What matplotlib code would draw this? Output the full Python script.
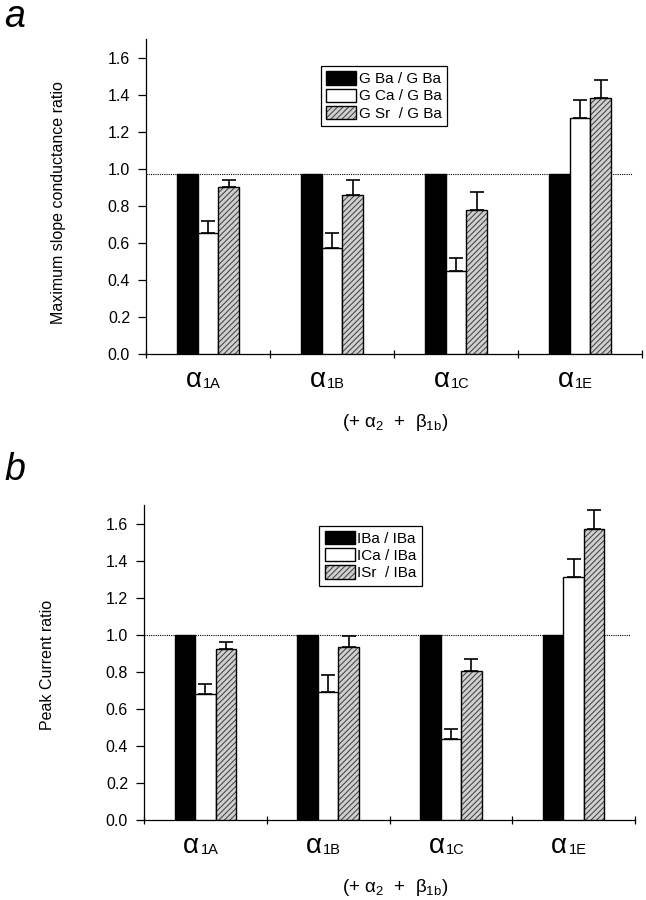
import matplotlib
matplotlib.use('Agg')
import matplotlib.pyplot as plt
from matplotlib.transforms import blended_transform_factory
from matplotlib.legend_handler import HandlerTuple
import numpy as np

plt.rcParams['font.family'] = ['Liberation Sans', 'DejaVu Sans']
plt.rcParams['mathtext.default'] = 'regular'
plt.rcParams['hatch.linewidth'] = 0.7

# ---------------- data ----------------
categories = ['1A', '1B', '1C', '1E']
yticks = [0.0, 0.2, 0.4, 0.6, 0.8, 1.0, 1.2, 1.4, 1.6]

# panel a: maximum slope conductance ratio
a_ba = [0.975, 0.975, 0.975, 0.975]
a_ca = [0.653, 0.574, 0.447, 1.274]
a_ca_err = [0.068, 0.081, 0.071, 0.098]
a_sr = [0.900, 0.859, 0.779, 1.382]
a_sr_err = [0.040, 0.081, 0.094, 0.100]
a_labels = ['G Ba / G Ba', 'G Ca / G Ba', 'G Sr  / G Ba']

# panel b: peak current ratio
b_ba = [1.0, 1.0, 1.0, 1.0]
b_ca = [0.679, 0.693, 0.438, 1.314]
b_ca_err = [0.056, 0.089, 0.052, 0.097]
b_sr = [0.922, 0.931, 0.802, 1.571]
b_sr_err = [0.040, 0.061, 0.068, 0.101]
b_labels = ['IBa / IBa', 'ICa / IBa', 'ISr  / IBa']

W, H = 646, 900
fig = plt.figure(figsize=(W / 100, H / 100), dpi=100)


def draw_panel(rect, ba, ca, ca_err, sr, sr_err, ylabel, labels,
               leg_anchor, ylab_pos, xlab_pos, dot_xmax):
    ax = fig.add_axes(rect)
    n = len(categories)
    x = np.arange(n) + 0.5
    w = 1 / 6
    hb = ax.bar(x - w, ba, w, color='black', edgecolor='black',
                linewidth=1.0, zorder=3)
    hc = ax.bar(x, ca, w, color='white', edgecolor='black',
                linewidth=1.0, zorder=3)
    hs_fill = ax.bar(x + w, sr, w, color='#cfcfcf', edgecolor='#3a3a3a',
                     hatch='//////', linewidth=0, zorder=3)
    hs_edge = ax.bar(x + w, sr, w, fill=False, edgecolor='black',
                     linewidth=1.0, zorder=4)
    ax.errorbar(x, ca, yerr=[np.zeros(n), ca_err], fmt='none',
                ecolor='black', elinewidth=1.2, capsize=5, capthick=1.2,
                zorder=2)
    ax.errorbar(x + w, sr, yerr=[np.zeros(n), sr_err], fmt='none',
                ecolor='black', elinewidth=1.2, capsize=5, capthick=1.2,
                zorder=2)
    ax.axhline(ba[0], xmin=0, xmax=dot_xmax, color='black',
               linestyle=(0, (1, 1)), linewidth=0.8, zorder=1)

    ax.set_xlim(0, n)
    ax.set_ylim(0, 1.7)
    ax.set_yticks(yticks)
    ax.set_yticklabels(['%.1f' % v for v in yticks], fontsize=11.5)
    ax.set_xticks(np.arange(n + 1))
    ax.set_xticklabels([])
    ax.tick_params(axis='y', direction='out', length=5.5, width=0.9, pad=6)
    ax.tick_params(axis='x', direction='inout', length=6, width=0.9)
    for s in ['top', 'right']:
        ax.spines[s].set_visible(False)
    for s in ['left', 'bottom']:
        ax.spines[s].set_linewidth(0.9)

    trans = blended_transform_factory(ax.transData, ax.transAxes)
    for xi, c in zip(x, categories):
        ax.annotate('\u03b1', xy=(xi, 0), xycoords=trans,
                    xytext=(-4.5, -23.5), textcoords='offset points',
                    ha='right', va='baseline', fontsize=20,
                    annotation_clip=False)
        ax.annotate(c, xy=(xi, 0), xycoords=trans,
                    xytext=(-3.5, -24.7), textcoords='offset points',
                    ha='left', va='baseline', fontsize=10.5,
                    annotation_clip=False)

    ax.text(xlab_pos[0], xlab_pos[1], r'(+ $\alpha_2$  +  $\beta_{1b}$)',
            transform=ax.transAxes, ha='center', va='center', fontsize=13.5)

    ax.set_ylabel(ylabel, fontsize=11.5)
    ax.yaxis.set_label_coords(ylab_pos[0], ylab_pos[1])
    ax.yaxis.label.set_va('center')

    leg = ax.legend([hb, hc, (hs_fill, hs_edge)], labels,
                    handler_map={tuple: HandlerTuple(ndivide=1, pad=0)},
                    loc='upper left', bbox_to_anchor=leg_anchor,
                    borderaxespad=0, fontsize=11, frameon=True,
                    fancybox=False, framealpha=1, edgecolor='black',
                    handlelength=2.0, handleheight=0.95, handletextpad=0.15,
                    labelspacing=0.15, borderpad=0.35)
    leg.get_frame().set_linewidth(0.9)
    return ax


# panel a
ax_a = draw_panel([146 / W, 1 - 354 / H, 496 / W, 314.7 / H],
                  a_ba, a_ca, a_ca_err, a_sr, a_sr_err,
                  'Maximum slope conductance ratio', a_labels,
                  (0.352, 0.915), (-0.176, 0.481), (0.502, -0.219), 0.98)

# panel b
ax_b = draw_panel([144 / W, 1 - 820 / H, 491 / W, 315 / H],
                  b_ba, b_ca, b_ca_err, b_sr, b_sr_err,
                  'Peak Current ratio', b_labels,
                  (0.357, 0.934), (-0.197, 0.492), (0.511, -0.213), 0.99)

fig.text(4 / W, 1 - 27 / H, 'a', fontsize=27, style='italic',
         ha='left', va='baseline')
fig.text(4 / W, 1 - 480 / H, 'b', fontsize=27, style='italic',
         ha='left', va='baseline')

fig.savefig('out.png', dpi=100)
